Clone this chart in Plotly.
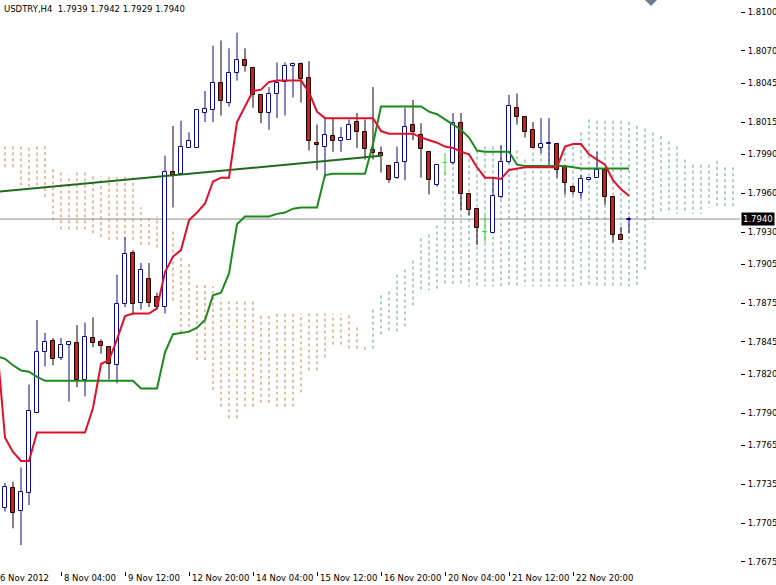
import plotly.graph_objects as go

# ---------------- data ----------------
title_text = "USDTRY,H4  1.7939 1.7942 1.7929 1.7940"

bar_index = list(range(-7, 72))
open_ = [1.7717, 1.7732, 1.7714, 1.7728, 1.7790, 1.7837, 1.7846, 1.7833, 1.7843, 1.7844,
         1.7816, 1.7848, 1.7845, 1.7841, 1.7827, 1.7874, 1.7914, 1.7875, 1.7894, 1.7880,
         1.7872, 1.7976, 1.7975, 1.7995, 1.7995, 1.8022, 1.8024, 1.8045, 1.8030, 1.8053,
         1.8063, 1.8057, 1.8036, 1.8022, 1.8037, 1.8046, 1.8058, 1.8060, 1.8049, 1.7999,
         1.7996, 1.8004, 1.8000, 1.8001, 1.8015, 1.8007, 1.7993, 1.7991, 1.7981, 1.7972,
         1.7984, 1.8013, 1.8005, 1.7992, 1.7966, 1.7983, 1.7983, 1.8014, 1.7959, 1.7948,
         1.7930, 1.7929, 1.7957, 1.7984, 1.8026, 1.8019, 1.8009, 1.7995, 1.7998, 1.7998,
         1.7980, 1.7965, 1.7960, 1.7970, 1.7972, 1.7978, 1.7957, 1.7928, 1.7939]
high_ = [1.7736, 1.7737, 1.7748, 1.7812, 1.7862, 1.7852, 1.7848, 1.7848, 1.7845, 1.7858,
         1.7860, 1.7864, 1.7847, 1.7841, 1.7897, 1.7926, 1.7916, 1.7906, 1.7906, 1.7883,
         1.7989, 1.8012, 1.8016, 1.8007, 1.8024, 1.8039, 1.8074, 1.8078, 1.8072, 1.8084,
         1.8072, 1.8057, 1.8036, 1.8042, 1.8061, 1.8061, 1.8061, 1.8061, 1.8062, 1.8013,
         1.8018, 1.8018, 1.8011, 1.8017, 1.8022, 1.8017, 1.8042, 1.7996, 1.7982, 1.7996,
         1.8026, 1.8032, 1.8014, 1.7992, 1.7982, 1.7991, 1.8022, 1.8022, 1.7959, 1.7948,
         1.7943, 1.7972, 1.7997, 1.8036, 1.8037, 1.8019, 1.8015, 1.8018, 1.8018, 1.7998,
         1.7980, 1.7966, 1.7974, 1.7972, 1.7992, 1.7978, 1.7957, 1.7934, 1.7942]
low_ = [1.7714, 1.7701, 1.7688, 1.7719, 1.7790, 1.7826, 1.7827, 1.7831, 1.7799, 1.7810,
        1.7803, 1.7841, 1.7836, 1.7816, 1.7813, 1.7872, 1.7866, 1.7870, 1.7872, 1.7870,
        1.7867, 1.7949, 1.7974, 1.7995, 1.7995, 1.8015, 1.8015, 1.8020, 1.8027, 1.8047,
        1.8054, 1.8026, 1.8014, 1.8009, 1.8018, 1.8020, 1.8034, 1.8030, 1.7993, 1.7978,
        1.7972, 1.7992, 1.7992, 1.8001, 1.7995, 1.7986, 1.7986, 1.7976, 1.7968, 1.7971,
        1.7970, 1.8001, 1.7972, 1.7959, 1.7965, 1.7974, 1.7982, 1.7947, 1.7943, 1.7920,
        1.7922, 1.7929, 1.7956, 1.7983, 1.8013, 1.8003, 1.7995, 1.7991, 1.7980, 1.7972,
        1.7959, 1.7959, 1.7956, 1.7970, 1.7972, 1.7951, 1.7922, 1.7924, 1.7929]
close_ = [1.7733, 1.7713, 1.7729, 1.7792, 1.7837, 1.7845, 1.7832, 1.7843, 1.7845, 1.7816,
          1.7849, 1.7844, 1.7842, 1.7828, 1.7874, 1.7913, 1.7874, 1.7901, 1.7875, 1.7872,
          1.7976, 1.7974, 1.7996, 1.8000, 1.8024, 1.8025, 1.8045, 1.8031, 1.8053, 1.8063,
          1.8058, 1.8036, 1.8022, 1.8037, 1.8045, 1.8058, 1.8060, 1.8048, 1.8000, 1.7997,
          1.8005, 1.8000, 1.8003, 1.8013, 1.8007, 1.7994, 1.7991, 1.7989, 1.7970, 1.7983,
          1.8011, 1.8007, 1.7994, 1.7970, 1.7982, 1.7983, 1.8014, 1.7959, 1.7947, 1.7933,
          1.7930, 1.7958, 1.7984, 1.8027, 1.8019, 1.8007, 1.7995, 1.7998, 1.7999, 1.7978,
          1.7968, 1.7961, 1.7971, 1.7972, 1.7978, 1.7957, 1.7928, 1.7924, 1.7940]

line_index = list(range(-8, 72))
tenkan = [1.7843, 1.7771, 1.7760, 1.7753, 1.7753, 1.7775, 1.7775, 1.7775, 1.7775, 1.7775,
          1.7775, 1.7775, 1.7794, 1.7828, 1.7831, 1.7847, 1.7865, 1.7867, 1.7867, 1.7867,
          1.7871, 1.7899, 1.7911, 1.7916, 1.7939, 1.7945, 1.7952, 1.7969, 1.7972, 1.7972,
          1.8015, 1.8027, 1.8039, 1.8040, 1.8046, 1.8047, 1.8047, 1.8047, 1.8047, 1.8038,
          1.8023, 1.8018, 1.8018, 1.8018, 1.8018, 1.8018, 1.8018, 1.8018, 1.8008, 1.8006,
          1.8006, 1.8006, 1.8006, 1.8003, 1.8001, 1.7999, 1.7996, 1.7995, 1.7992, 1.7990,
          1.7980, 1.7972, 1.7972, 1.7971, 1.7978, 1.7979, 1.7980, 1.7980, 1.7980, 1.7980,
          1.7980, 1.7996, 1.7998, 1.7998, 1.7990, 1.7986, 1.7982, 1.7970, 1.7963, 1.7958]
kijun = [1.7834, 1.7832, 1.7827, 1.7823, 1.7822, 1.7818, 1.7815, 1.7815, 1.7815, 1.7815,
         1.7815, 1.7815, 1.7815, 1.7815, 1.7815, 1.7815, 1.7815, 1.7815, 1.7809, 1.7809,
         1.7809, 1.7837, 1.7851, 1.7852, 1.7853, 1.7856, 1.7862, 1.7881, 1.7883, 1.7898,
         1.7936, 1.7942, 1.7942, 1.7942, 1.7942, 1.7944, 1.7945, 1.7948, 1.7949, 1.7949,
         1.7949, 1.7974, 1.7975, 1.7975, 1.7975, 1.7975, 1.7975, 1.7998, 1.8027, 1.8027,
         1.8027, 1.8027, 1.8027, 1.8027, 1.8023, 1.8021, 1.8017, 1.8013, 1.8009, 1.8003,
         1.7993, 1.7992, 1.7992, 1.7992, 1.7992, 1.7982, 1.7981, 1.7981, 1.7981, 1.7981,
         1.7981, 1.7981, 1.7980, 1.7979, 1.7979, 1.7979, 1.7979, 1.7979, 1.7979, 1.7979]

cloud_index = list(range(-8, 85))
senkou_a = [1.7980, 1.7980, 1.7980, 1.7966, 1.7965, 1.7966, 1.7957, 1.7939, 1.7932, 1.7932,
            1.7932, 1.7932, 1.7929, 1.7926, 1.7924, 1.7924, 1.7924, 1.7924, 1.7920, 1.7920,
            1.7918, 1.7877, 1.7877, 1.7852, 1.7852, 1.7831, 1.7831, 1.7808, 1.7795, 1.7786,
            1.7786, 1.7795, 1.7795, 1.7798, 1.7798, 1.7795, 1.7795, 1.7795, 1.7806, 1.7823,
            1.7823, 1.7833, 1.7843, 1.7843, 1.7840, 1.7840, 1.7839, 1.7870, 1.7881, 1.7884,
            1.7897, 1.7901, 1.7908, 1.7925, 1.7928, 1.7935, 1.7976, 1.7985, 1.7990, 1.7991,
            1.7993, 1.7996, 1.7996, 1.7997, 1.7998, 1.7993, 1.7986, 1.7996, 1.7996, 1.7996,
            1.7996, 1.7996, 1.7996, 1.8007, 1.8017, 1.8016, 1.8016, 1.8016, 1.8016, 1.8015,
            1.8012, 1.8010, 1.8007, 1.8004, 1.8000, 1.7996, 1.7986, 1.7982, 1.7982, 1.7982,
            1.7985, 1.7980, 1.7980]
senkou_b = [1.7997, 1.7997, 1.7997, 1.7997, 1.7997, 1.7997, 1.7997, 1.7979, 1.7976, 1.7974,
            1.7976, 1.7976, 1.7973, 1.7973, 1.7973, 1.7973, 1.7973, 1.7972, 1.7949, 1.7942,
            1.7942, 1.7935, 1.7932, 1.7911, 1.7907, 1.7889, 1.7889, 1.7888, 1.7879, 1.7877,
            1.7877, 1.7877, 1.7877, 1.7867, 1.7867, 1.7867, 1.7867, 1.7867, 1.7867, 1.7867,
            1.7867, 1.7867, 1.7867, 1.7867, 1.7867, 1.7858, 1.7841, 1.7840, 1.7850, 1.7852,
            1.7853, 1.7857, 1.7872, 1.7883, 1.7885, 1.7885, 1.7888, 1.7888, 1.7888, 1.7888,
            1.7888, 1.7888, 1.7888, 1.7888, 1.7888, 1.7888, 1.7888, 1.7888, 1.7888, 1.7888,
            1.7888, 1.7888, 1.7888, 1.7888, 1.7888, 1.7888, 1.7888, 1.7888, 1.7888, 1.7888,
            1.7888, 1.7901, 1.7937, 1.7944, 1.7944, 1.7944, 1.7944, 1.7944, 1.7944, 1.7949,
            1.7949, 1.7949, 1.7949]

trend_x = [-8, 40]
trend_y = [1.7961, 1.7989]
bid_price = 1.7940

y_ticks = [1.8100, 1.8070, 1.8045, 1.8015, 1.7990, 1.7960, 1.7930, 1.7905,
           1.7875, 1.7845, 1.7820, 1.7790, 1.7765, 1.7735, 1.7705, 1.7675]
x_tick_pos = [-8, 0, 8, 16, 24, 32, 40, 48, 56, 64]
x_tick_text = ["6 Nov 2012", "8 Nov 04:00", "9 Nov 12:00", "12 Nov 20:00", "14 Nov 04:00",
               "15 Nov 12:00", "16 Nov 20:00", "20 Nov 04:00", "21 Nov 12:00", "22 Nov 20:00"]

# ---------------- styles ----------------
FONT = "DejaVu Sans"
FS = 8.5
BULL_LINE = "#0a0a8c"
BEAR_FILL = "#c8201e"
BEAR_LINE = "#1a0000"
DOJI = "#33dd33"
TENKAN_C = "#e0102a"
KIJUN_C = "#1c8a1c"
TREND_C = "#1f6a1f"
UP_KUMO = "#d67a40"
DN_KUMO = "#5a9e88"
BODY_W = 0.62
X_RANGE = [-7.625, 84.875]
Y_RANGE = [1.76680, 1.81093]

fig = go.Figure()

# cloud (dotted vertical hatching)
seg = {"o": ([], []), "g": ([], [])}
for i, a, b in zip(cloud_index, senkou_a, senkou_b):
    key = "o" if a < b else "g"
    seg[key][0].extend([i, i, None])
    seg[key][1].extend([a, b, None])
for key, col in (("o", UP_KUMO), ("g", DN_KUMO)):
    fig.add_trace(go.Scatter(x=seg[key][0], y=seg[key][1], mode="lines",
                             line=dict(color=col, width=1, dash="3px,3px"),
                             hoverinfo="skip", showlegend=False, zorder=0))

# candles
groups = {"bull": [], "bear": [], "doji": []}
for k, i in enumerate(bar_index):
    o, c = open_[k], close_[k]
    if o == c:
        groups["doji"].append(k)
    elif c > o:
        groups["bull"].append(k)
    else:
        groups["bear"].append(k)

wick_col = {"bull": BULL_LINE, "bear": BEAR_LINE, "doji": DOJI}
for g, ks in groups.items():
    wx, wy = [], []
    for k in ks:
        wx.extend([bar_index[k], bar_index[k], None])
        wy.extend([low_[k], high_[k], None])
    fig.add_trace(go.Scatter(x=wx, y=wy, mode="lines",
                             line=dict(color=wick_col[g], width=1),
                             hoverinfo="skip", showlegend=False, zorder=1))

for g, ks in groups.items():
    xs = [bar_index[k] for k in ks]
    base = [min(open_[k], close_[k]) for k in ks]
    h = [max(abs(close_[k] - open_[k]), 0.00001) for k in ks]
    if g == "bull":
        fill, lc = "#ffffff", BULL_LINE
    elif g == "bear":
        fill, lc = BEAR_FILL, BEAR_LINE
    else:
        fill, lc = DOJI, DOJI
    fig.add_trace(go.Bar(x=xs, y=h, base=base, width=BODY_W,
                         marker=dict(color=fill, line=dict(color=lc, width=1)),
                         hoverinfo="skip", showlegend=False, zorder=2))

# indicator lines
fig.add_trace(go.Scatter(x=trend_x, y=trend_y, mode="lines",
                         line=dict(color=TREND_C, width=2), showlegend=False, zorder=3))
fig.add_trace(go.Scatter(x=line_index, y=kijun, mode="lines",
                         line=dict(color=KIJUN_C, width=2), showlegend=False, zorder=3))
fig.add_trace(go.Scatter(x=line_index, y=tenkan, mode="lines",
                         line=dict(color=TENKAN_C, width=2), showlegend=False, zorder=4))

# bid line
fig.add_shape(type="line", xref="paper", x0=0, x1=1, yref="y", y0=bid_price, y1=bid_price,
              line=dict(color="#8c8c8c", width=1), layer="below")

# chart-shift marker
fig.add_shape(type="path", xref="paper", yref="paper",
              path="M 0.8716 1 L 0.8878 1 L 0.8797 0.9895 Z",
              fillcolor="#6f7c8c", line=dict(width=0))

fig.add_annotation(x=0, y=1, xref="paper", yref="paper", text=title_text,
                   showarrow=False, xanchor="left", yanchor="top", xshift=2, yshift=-2,
                   font=dict(family=FONT, size=FS, color="#000000"))
fig.add_annotation(x=1, y=bid_price, xref="paper", yref="y", text="1.7940",
                   showarrow=False, xanchor="left", yanchor="middle", xshift=1,
                   bgcolor="#000000", borderpad=1,
                   font=dict(family=FONT, size=FS, color="#ffffff"))

# x-axis labels, left-aligned at their tick (first one partly outside, as in the terminal)
for pos, txt in zip(x_tick_pos, x_tick_text):
    px = (pos - X_RANGE[0]) / (X_RANGE[1] - X_RANGE[0])
    fig.add_annotation(x=px, y=0, xref="paper", yref="paper", text=txt,
                       showarrow=False, xanchor="left", yanchor="top", xshift=2, yshift=-1,
                       borderpad=0, font=dict(family=FONT, size=FS, color="#000000"))

fig.update_layout(
    width=776, height=585,
    margin=dict(l=0, r=36, t=0, b=14),
    paper_bgcolor="#ffffff", plot_bgcolor="#ffffff",
    bargap=0, showlegend=False,
    font=dict(family=FONT, size=FS, color="#000000"),
)
fig.update_xaxes(range=X_RANGE, showgrid=False, zeroline=False,
                 showline=True, linecolor="#000000", linewidth=1,
                 tickmode="array", tickvals=x_tick_pos[1:], ticktext=[""] * (len(x_tick_pos) - 1),
                 ticks="outside", ticklen=4, tickcolor="#000000", tickangle=0)
fig.update_yaxes(range=Y_RANGE, side="right", showgrid=False, zeroline=False,
                 showline=True, linecolor="#000000", linewidth=1,
                 tickmode="array", tickvals=y_ticks, ticktext=[f"{v:.4f}" for v in y_ticks],
                 ticks="outside", ticklen=4, tickcolor="#000000", ticklabelstandoff=1,
                 tickfont=dict(family=FONT, size=FS, color="#000000"))

fig.write_html("out.html", config={"displayModeBar": False},
               post_script="document.body.style.margin='0';document.body.style.padding='0';")
